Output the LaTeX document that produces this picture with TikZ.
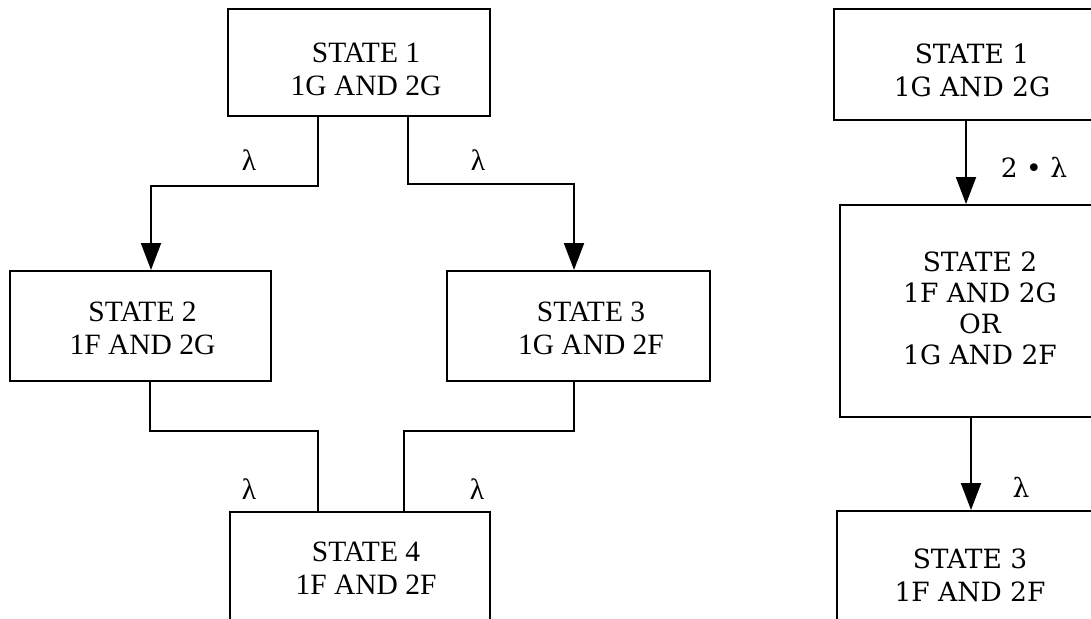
\documentclass[tikz,border=0pt]{standalone}
\usepackage{fontspec}
\setmainfont{Liberation Serif}
\newfontfamily\rfont{DejaVu Serif}
\usetikzlibrary{arrows.meta}
\begin{document}
\begin{tikzpicture}[x=1pt,y=-1pt,
  box/.style={draw, line width=2pt, inner sep=0pt, anchor=north west},
  txt/.style={align=center, font=\fontsize{29.5}{33}\selectfont, inner sep=0pt},
  rtxt/.style={align=center, font=\rfont\fontsize{26.5}{33}\selectfont, inner sep=0pt},
  lab/.style={font=\fontsize{29.5}{33}\selectfont, inner sep=0pt},
  rlab/.style={font=\rfont\fontsize{26.5}{33}\selectfont, inner sep=0pt},
  conn/.style={line width=2pt},
  arr/.style={conn, -{Triangle[width=20pt,length=27pt]}}]
\useasboundingbox (0,0) rectangle (1091,618);
\clip (0,0) rectangle (1091,618);
% ---------- left diagram ----------
\node[box, minimum width=262, minimum height=107] (L1) at (227,8) {};
\node[box, minimum width=261, minimum height=110] (L2) at (9,270) {};
\node[box, minimum width=263, minimum height=110] (L3) at (446,270) {};
\node[box, minimum width=260, minimum height=130] (L4) at (229,511) {};
\node[txt] (L1t) at (366,69.5) {STATE 1\\1G AND 2G};
\node[txt] (L2t) at (142.5,328) {STATE 2\\1F AND 2G};
\node[txt] (L3t) at (591,328) {STATE 3\\1G AND 2F};
\node[txt] (L4t) at (366,568) {STATE 4\\1F AND 2F};
\draw[arr] ([xshift=-41pt]L1.south) -- ++(0,69) -| ([xshift=10.5pt]L2.north);
\draw[arr] ([xshift=49pt]L1.south) -- ++(0,67) -| ([xshift=-4.5pt]L3.north);
\draw[conn] ([xshift=9.5pt]L2.south) -- ++(0,49) -| ([xshift=-42pt]L4.north);
\draw[conn] ([xshift=-4.5pt]L3.south) -- ++(0,49) -| ([xshift=44pt]L4.north);
\node[lab] (la1) at (249,160) {λ};
\node[lab] (la2) at (478,160) {λ};
\node[lab] (la3) at (249,489) {λ};
\node[lab] (la4) at (477,489) {λ};
% ---------- right diagram ----------
\node[box, minimum width=290, minimum height=111] (R1) at (833,8) {};
\node[box, minimum width=290, minimum height=212] (R2) at (839,204) {};
\node[box, minimum width=290, minimum height=130] (R3) at (836,510) {};
\node[rtxt] (R1t) at (972,70) {STATE 1\\1G AND 2G};
\node[rtxt, font=\rfont\fontsize{26.5}{31}\selectfont] (R2t) at (980,308) {STATE 2\\1F AND 2G\\OR\\1G AND 2F};
\node[rtxt] (R3t) at (970,575) {STATE 3\\1F AND 2F};
\draw[arr] ([xshift=-13pt]R1.south) -- ([xshift=-13pt]R1.south |- R2.north);
\draw[arr] ([xshift=-14pt]R2.south) -- ([xshift=-14pt]R2.south |- R3.north);
\node[rlab] (lb1) at (1034,167) {2 • λ};
\node[rlab] (lb2) at (1021,487) {λ};
\end{tikzpicture}
\end{document}
